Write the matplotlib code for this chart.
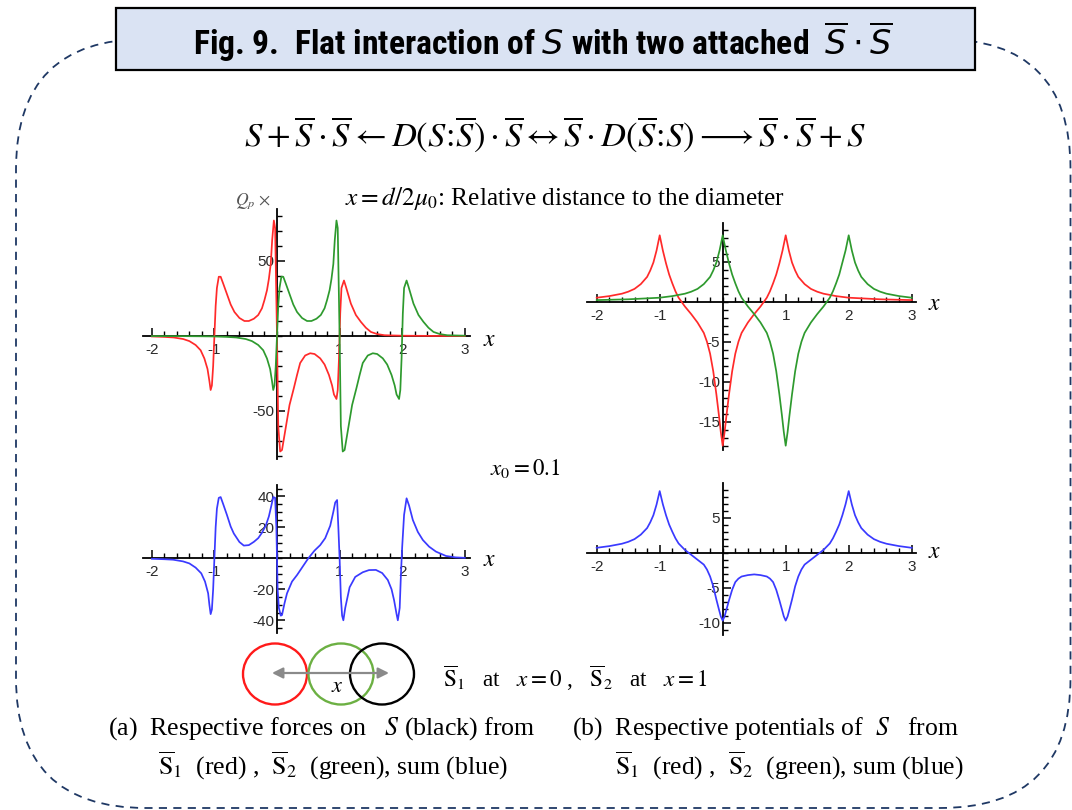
import matplotlib
matplotlib.use('Agg')
import matplotlib.pyplot as plt
from matplotlib.patches import FancyBboxPatch, Rectangle, Ellipse
from matplotlib.ticker import MultipleLocator, FixedLocator
from matplotlib import font_manager

W, H = 1072, 810
plt.rcParams['mathtext.fontset'] = 'stix'
plt.rcParams['font.family'] = ['Liberation Serif', 'DejaVu Serif']
plt.rcParams['axes.unicode_minus'] = False

# ---------------- data ----------------
x_major = [-2, -1, 1, 2, 3]

# (a) forces
red_force_x = [-2.0, -1.8, -1.65, -1.5, -1.4, -1.3, -1.22, -1.16, -1.11, -1.08, -1.06, -1.04, -1.02, -1.0,
               -0.98, -0.96, -0.93, -0.9, -0.86, -0.8, -0.74, -0.68, -0.6, -0.52, -0.45, -0.37, -0.3, -0.24,
               -0.2, -0.16, -0.13, -0.1, -0.077, -0.05, -0.03, 0.0, 0.02, 0.05, 0.08, 0.12, 0.16, 0.2, 0.27,
               0.32, 0.37, 0.45, 0.53, 0.6, 0.69, 0.76, 0.83, 0.88, 0.91, 0.95, 0.97, 0.99, 1.01, 1.03, 1.07,
               1.1, 1.18, 1.26, 1.34, 1.42, 1.5, 1.6, 1.72, 2.0, 2.5, 3.0]
red_force_y = [-0.3, -0.6, -1.0, -2.0, -3.4, -6.0, -9.5, -15, -22, -30, -36, -33, -20, 0,
               20, 32, 39.5, 39.5, 35, 28, 21, 16, 12, 10, 10, 11.5, 14, 18.5,
               24, 30.5, 38, 48, 64, 77, 72, 0, -60, -77, -76, -66, -56, -46, -34.6,
               -26, -18, -13, -11.5, -12, -14.9, -19, -26, -33, -39, -42, -36, -15, 15, 32, 37,
               33, 21.6, 14, 9.4, 5.5, 2.7, 1.3, 0.5, 0.2, 0.05, 0.0]

green_force_x = [-2.0, -1.5, -1.2, -1.0, -0.8, -0.65, -0.5, -0.4, -0.3, -0.22, -0.16, -0.11, -0.08, -0.06,
                 -0.04, -0.02, 0.0, 0.02, 0.04, 0.07, 0.1, 0.14, 0.2, 0.26, 0.32, 0.4, 0.48, 0.55, 0.63,
                 0.7, 0.76, 0.8, 0.84, 0.87, 0.9, 0.923, 0.95, 0.97, 1.0, 1.02, 1.05, 1.08, 1.12, 1.16,
                 1.2, 1.27, 1.32, 1.37, 1.45, 1.53, 1.6, 1.69, 1.76, 1.83, 1.88, 1.91, 1.95, 1.97, 1.99,
                 2.01, 2.03, 2.07, 2.1, 2.18, 2.26, 2.34, 2.42, 2.5, 2.6, 2.72, 3.0]
green_force_y = [-0.05, -0.1, -0.2, -0.3, -0.6, -1.0, -2.0, -3.4, -6.0, -9.5, -15, -22, -30, -36,
                 -33, -20, 0, 20, 32, 39.5, 39.5, 35, 28, 21, 16, 12, 10, 10, 11.5,
                 14, 18.5, 24, 30.5, 38, 48, 64, 77, 72, 0, -60, -77, -76, -66, -56,
                 -46, -34.6, -26, -18, -13, -11.5, -12, -14.9, -19, -26, -33, -39, -42, -36, -15,
                 15, 32, 37, 33, 21.6, 14, 9.4, 5.5, 2.7, 1.3, 0.5, 0.2]

blue_force_x = [-2.0, -1.8, -1.66, -1.5, -1.4, -1.3, -1.21, -1.15, -1.1, -1.08, -1.06, -1.04, -1.02, -1.0,
                -0.98, -0.96, -0.93, -0.9, -0.86, -0.8, -0.74, -0.69, -0.6, -0.53, -0.45, -0.37, -0.3,
                -0.24, -0.18, -0.13, -0.09, -0.06, -0.03, -0.01, 0.01, 0.03, 0.06, 0.08, 0.12, 0.16,
                0.24, 0.32, 0.4, 0.5, 0.6, 0.69, 0.77, 0.85, 0.9, 0.93, 0.96, 0.98, 1.0, 1.02, 1.04,
                1.06, 1.09, 1.16, 1.25, 1.37, 1.47, 1.58, 1.68, 1.77, 1.83, 1.87, 1.91, 1.93, 1.96,
                1.98, 2.0, 2.03, 2.07, 2.11, 2.17, 2.25, 2.33, 2.43, 2.54, 2.7, 2.85, 3.0]
blue_force_y = [-0.3, -0.6, -0.9, -2.0, -3.3, -6.0, -9.7, -15, -22.6, -30, -36, -33, -20, 0,
                20, 32, 39, 39.5, 35, 28, 20.5, 16, 10.5, 8.2, 8.5, 10.6, 13,
                16.5, 21, 27, 34, 39.5, 39, 20, -20, -32, -37, -36.6, -29, -22.6,
                -15, -10.8, -6, 0, 5, 8.5, 13, 21, 30, 36, 37.6, 20, 0, -25, -37,
                -40, -32, -18.7, -12, -9, -7.6, -7.5, -9.5, -14, -20, -27, -36, -40, -32,
                -10, 7.5, 28, 38.7, 34, 24.7, 17, 11.8, 7.5, 4.3, 1.5, 0.6, 0.3]

# (b) potentials
red_pot_x = [-2.0, -1.8, -1.6, -1.5, -1.4, -1.3, -1.2, -1.15, -1.1, -1.05, -1.0, -0.95, -0.9, -0.85,
             -0.8, -0.75, -0.7, -0.6, -0.5, -0.4, -0.3, -0.25, -0.2, -0.15, -0.1, -0.06, -0.03, 0.0,
             0.03, 0.06, 0.1, 0.15, 0.2, 0.25, 0.3, 0.4, 0.5, 0.6, 0.7, 0.75, 0.8, 0.85, 0.9, 0.95,
             1.0, 1.05, 1.1, 1.15, 1.2, 1.3, 1.4, 1.5, 1.6, 1.8, 2.0, 2.5, 3.0]
red_pot_y = [0.5, 0.7, 1.0, 1.25, 1.6, 2.2, 3.1, 3.9, 4.9, 6.4, 8.3, 6.4, 4.8, 3.4,
             2.3, 1.3, 0.5, -0.6, -1.55, -2.6, -3.9, -5.0, -6.5, -8.7, -11.6, -14.2, -16.3, -18.0,
             -16.3, -14.2, -11.6, -8.7, -6.5, -5.0, -3.9, -2.6, -1.55, -0.6, 0.5, 1.3, 2.3, 3.4, 4.8, 6.4,
             8.3, 6.4, 4.9, 3.9, 3.1, 2.2, 1.6, 1.25, 1.0, 0.7, 0.5, 0.3, 0.2]

green_pot_x = [-2.0, -1.5, -1.0, -0.8, -0.6, -0.5, -0.4, -0.3, -0.2, -0.15, -0.1, -0.05, 0.0, 0.05,
               0.1, 0.15, 0.2, 0.25, 0.3, 0.4, 0.5, 0.6, 0.7, 0.75, 0.8, 0.85, 0.9, 0.94, 0.97, 1.0,
               1.03, 1.06, 1.1, 1.15, 1.2, 1.25, 1.3, 1.4, 1.5, 1.6, 1.7, 1.75, 1.8, 1.85, 1.9, 1.95,
               2.0, 2.05, 2.1, 2.15, 2.2, 2.3, 2.4, 2.5, 2.6, 2.8, 3.0]
green_pot_y = [0.2, 0.3, 0.5, 0.7, 1.0, 1.25, 1.6, 2.2, 3.1, 3.9, 4.9, 6.4, 8.3, 6.4,
               4.8, 3.4, 2.3, 1.3, 0.5, -0.6, -1.55, -2.6, -3.9, -5.0, -6.5, -8.7, -11.6, -14.2, -16.3, -18.0,
               -16.3, -14.2, -11.6, -8.7, -6.5, -5.0, -3.9, -2.6, -1.55, -0.6, 0.5, 1.3, 2.3, 3.4, 4.9, 6.4,
               8.3, 6.4, 4.9, 3.9, 3.1, 2.2, 1.6, 1.25, 1.0, 0.7, 0.5]

blue_pot_x = [-2.0, -1.8, -1.6, -1.5, -1.4, -1.3, -1.2, -1.15, -1.1, -1.05, -1.0, -0.95, -0.9, -0.85,
              -0.8, -0.75, -0.7, -0.6, -0.5, -0.4, -0.3, -0.25, -0.2, -0.15, -0.1, -0.06, -0.03, 0.0,
              0.03, 0.06, 0.1, 0.15, 0.2, 0.25, 0.3, 0.4, 0.5, 0.6, 0.7, 0.75, 0.8, 0.85, 0.9, 0.94,
              0.97, 1.0, 1.03, 1.06, 1.1, 1.15, 1.2, 1.25, 1.3, 1.4, 1.5, 1.6, 1.7, 1.75, 1.8, 1.85,
              1.9, 1.95, 2.0, 2.05, 2.1, 2.15, 2.2, 2.3, 2.4, 2.5, 2.6, 2.8, 3.0]
blue_pot_y = [0.7, 0.94, 1.28, 1.55, 1.94, 2.58, 3.52, 4.34, 5.36, 6.88, 8.8, 6.92, 5.36, 4.02,
              3.0, 2.06, 1.32, 0.4, -0.3, -1.0, -1.7, -2.4, -3.4, -4.8, -6.7, -8.1, -9.1, -9.7,
              -9.1, -8.1, -6.8, -5.3, -4.2, -3.7, -3.4, -3.2, -3.1, -3.2, -3.4, -3.7, -4.2, -5.3, -6.8, -8.1,
              -9.1, -9.7, -9.1, -8.1, -6.7, -4.8, -3.4, -2.4, -1.7, -1.0, -0.3, 0.4, 1.32, 2.06, 3.0, 4.02,
              5.36, 6.92, 8.8, 6.88, 5.36, 4.34, 3.52, 2.58, 1.94, 1.55, 1.28, 0.94, 0.7]

tl_y_major = [-50, 50]
tr_y_major = [-15, -10, -5, 5]
bl_y_major = [-40, -20, 20, 40]
br_y_major = [-10, -5, 5]

RED = '#ff2a2a'
GREEN = '#2e9a2e'
BLUE = '#3a3aff'


def pick(cands, default='DejaVu Sans'):
    names = {f.name for f in font_manager.fontManager.ttflist}
    for c in cands:
        if c in names:
            return c
    return default


TITLE_FONT = pick(['Liberation Sans Narrow', 'Roboto Condensed', 'Roboto'])
SANS = pick(['Liberation Sans', 'DejaVu Sans'])

fig = plt.figure(figsize=(W / 100, H / 100), dpi=100)
bg = fig.add_axes([0, 0, 1, 1], zorder=0)
bg.set_xlim(0, W)
bg.set_ylim(H, 0)
bg.axis('off')

# dashed rounded frame
frame = FancyBboxPatch((16, 39), 1054.5, 769, boxstyle='round,pad=0,rounding_size=130',
                       fill=False, edgecolor='#1f3864', lw=1.3, linestyle=(0, (4.5, 3.5)), zorder=1,
                       clip_on=False)
bg.add_patch(frame)
# title box
bg.add_patch(Rectangle((116, 8), 859, 62, facecolor='#dae3f3', edgecolor='black', lw=1.6, zorder=2))

texts = []  # (text, left, right)


def put(px, py, s, left, right, **kw):
    t = bg.text(px, py, s, **kw)
    texts.append((t, left, right))
    return t


put(543, 42, r'Fig. 9.  Flat interaction of $S$ with two attached  $\overline{S}\cdot\overline{S}$',
    193, 893, ha='center', va='center', fontsize=22, fontweight='bold', family=TITLE_FONT,
    math_fontfamily='dejavusans', zorder=3)

put(555, 134, r'$S+\overline{S}\cdot\overline{S}\leftarrow D\left(S\!:\!\overline{S}\right)\cdot\overline{S}'
    r'\leftrightarrow\overline{S}\cdot D\left(\overline{S}\!:\!S\right)\longrightarrow\overline{S}\cdot\overline{S}+S$',
    245, 866, ha='center', va='center', fontsize=20)

put(345, 198, r'$x = d/2\mu_0$: Relative distance to the diameter', 345, 787,
    ha='left', va='center', fontsize=15)
put(235, 201, r'$Q_p$ $\times$', 235, 272, ha='left', va='center', fontsize=10, color='#555555')
put(490, 468, r'$x_0 = 0.1$', 490, 561, ha='left', va='center', fontsize=15)
put(443, 678, r'$\overline{\mathrm{S}}_1$   at   $x=0$ ,   $\overline{\mathrm{S}}_2$   at   $x=1$', 443, 708,
    ha='left', va='center', fontsize=15)
put(108, 729, r'(a)  Respective forces on   $S$ (black) from', 108, 537, ha='left', va='center', fontsize=16)
put(158, 766, r'$\overline{\mathrm{S}}_1$  (red) ,  $\overline{\mathrm{S}}_2$  (green), sum (blue)', 158, 510,
    ha='left', va='center', fontsize=16)
put(572, 729, r'(b)  Respective potentials of  $S$   from', 572, 960, ha='left', va='center', fontsize=16)
put(615, 766, r'$\overline{\mathrm{S}}_1$  (red) ,  $\overline{\mathrm{S}}_2$  (green), sum (blue)', 615, 965,
    ha='left', va='center', fontsize=16)

# axis "x" labels
for (px, py) in [(490, 340), (935, 305), (490, 561), (935, 552)]:
    bg.text(px, py, r'$x$', ha='center', va='center', fontsize=17)

# circles diagram
bg.add_patch(Ellipse((275, 674), 64, 61, fill=False, edgecolor='#ff1a1a', lw=1.7))
bg.add_patch(Ellipse((341, 674), 65, 61, fill=False, edgecolor='#6cb043', lw=1.7))
bg.add_patch(Ellipse((382, 674), 64, 61, fill=False, edgecolor='black', lw=1.7))
bg.annotate('', xy=(272, 673), xytext=(389, 673),
            arrowprops=dict(arrowstyle='<|-|>', color='#8a8a8a', lw=1.6, mutation_scale=16,
                            shrinkA=0, shrinkB=0))
bg.text(337, 687, r'$x$', ha='center', va='center', fontsize=16)


def make_axes(x0, sx, y0, sy, xlim, ylim):
    l = x0 + xlim[0] * sx
    r = x0 + xlim[1] * sx
    t = y0 - ylim[1] * sy
    b = y0 - ylim[0] * sy
    ax = fig.add_axes([l / W, 1 - b / H, (r - l) / W, (b - t) / H], zorder=2)
    ax.set_xlim(*xlim)
    ax.set_ylim(*ylim)
    ax.set_facecolor('none')
    for s in ['top', 'right']:
        ax.spines[s].set_visible(False)
    for s in ['left', 'bottom']:
        ax.spines[s].set_position(('data', 0))
        ax.spines[s].set_linewidth(1.3)
        ax.spines[s].set_zorder(2)
    return ax


def style(ax, ymajor, yminor):
    ax.xaxis.set_major_locator(FixedLocator(x_major))
    ax.xaxis.set_minor_locator(MultipleLocator(0.2))
    ax.yaxis.set_major_locator(FixedLocator(ymajor))
    ax.yaxis.set_minor_locator(MultipleLocator(yminor))
    ax.tick_params(which='both', direction='in', color='black', labelcolor='#2a2a2a',
                   labelsize=11, labelfontfamily=SANS)
    ax.tick_params(which='major', length=6, width=1.1)
    ax.tick_params(which='minor', length=3.5, width=1.0)
    ax.tick_params(axis='x', pad=5)
    ax.tick_params(axis='y', pad=2)


ax_tl = make_axes(277, 62.6, 336, 1.5, (-2.14, 3.08), (-82, 85))
style(ax_tl, tl_y_major, 10)
ax_tl.plot(red_force_x, red_force_y, color=RED, lw=1.25, zorder=3)
ax_tl.plot(green_force_x, green_force_y, color=GREEN, lw=1.25, zorder=3)

ax_tr = make_axes(722.7, 63, 301.7, 8, (-2.16, 3.07), (-18.6, 9.8))
style(ax_tr, tr_y_major, 1)
ax_tr.plot(red_pot_x, red_pot_y, color=RED, lw=1.25, zorder=3)
ax_tr.plot(green_pot_x, green_pot_y, color=GREEN, lw=1.25, zorder=3)

ax_bl = make_axes(277, 62.6, 558.3, 1.55, (-2.14, 3.08), (-48, 47))
style(ax_bl, bl_y_major, 5)
ax_bl.plot(blue_force_x, blue_force_y, color=BLUE, lw=1.25, zorder=3)

ax_br = make_axes(722.7, 63, 552.7, 7, (-2.16, 3.07), (-11.8, 9.9))
style(ax_br, br_y_major, 1)
ax_br.plot(blue_pot_x, blue_pot_y, color=BLUE, lw=1.25, zorder=3)

# fit text widths to the reference layout
fig.canvas.draw()
r = fig.canvas.get_renderer()
for t, left, right in texts:
    w = t.get_window_extent(r).width
    t.set_fontsize(t.get_fontsize() * (right - left) / w)

fig.savefig('out.png', dpi=100)
